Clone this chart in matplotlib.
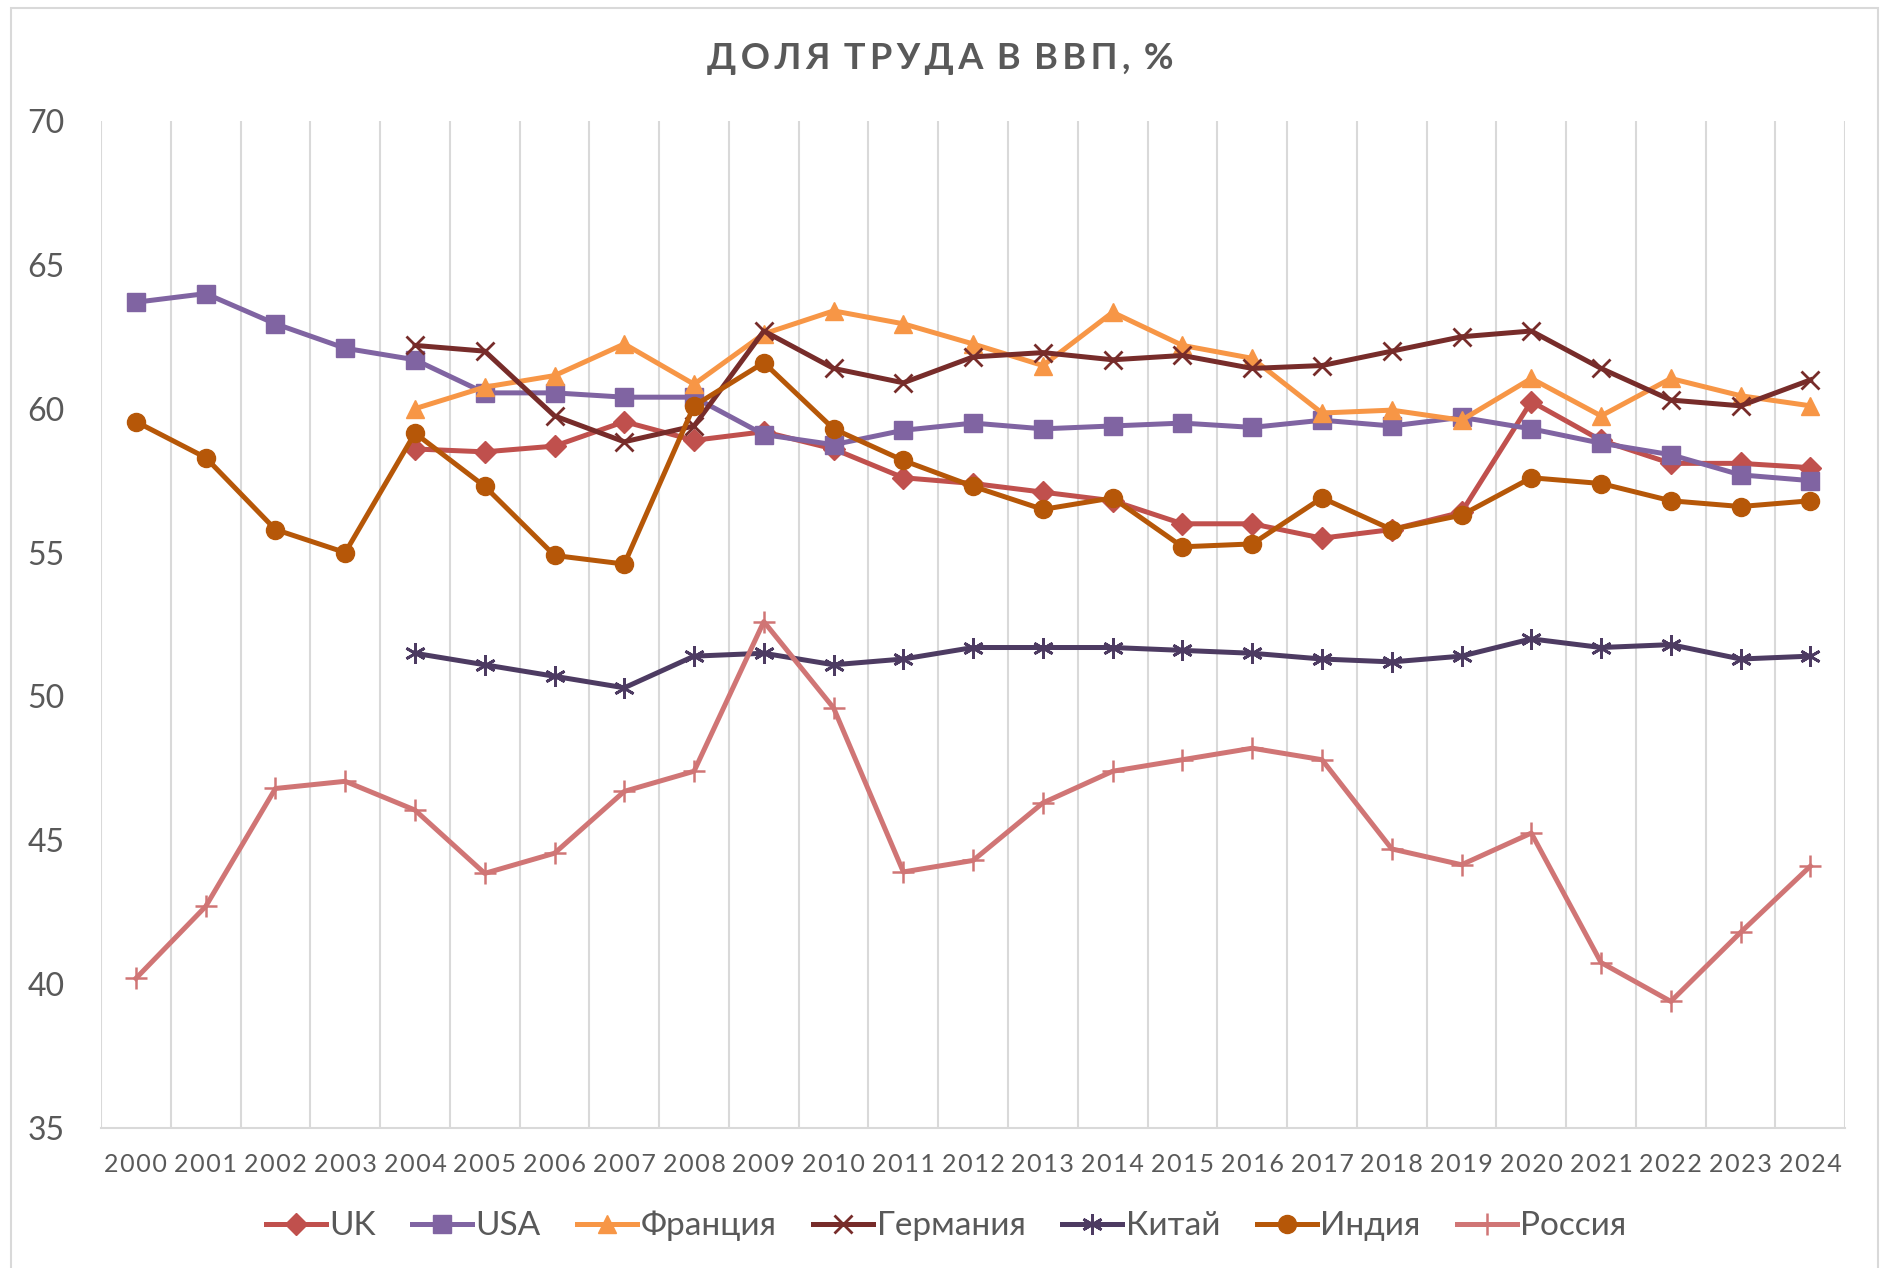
import numpy as np
import matplotlib
matplotlib.use("Agg")
import matplotlib.pyplot as plt
from matplotlib.patches import Rectangle

plt.rcParams['font.family'] = ['Lato', 'DejaVu Sans']

# data
years = [str(y) for y in range(2000, 2025)]
nan = np.nan

uk = [nan, nan, nan, nan, 58.6, 58.5, 58.7, 59.55, 58.9, 59.2, 58.6, 57.6, 57.4, 57.1, 56.8,
      56.0, 56.0, 55.5, 55.8, 56.4, 60.25, 58.9, 58.1, 58.1, 57.95]
usa = [63.7, 64.0, 62.95, 62.1, 61.7, 60.55, 60.55, 60.4, 60.4, 59.1, 58.75, 59.25, 59.5, 59.3, 59.4,
       59.5, 59.35, 59.6, 59.4, 59.7, 59.3, 58.8, 58.4, 57.7, 57.5]
france = [nan, nan, nan, nan, 60.0, 60.75, 61.15, 62.25, 60.85, 62.6, 63.4, 62.95, 62.25, 61.5, 63.35,
          62.2, 61.75, 59.85, 59.95, 59.6, 61.05, 59.75, 61.05, 60.45, 60.1]
germany = [nan, nan, nan, nan, 62.2, 62.0, 59.75, 58.85, 59.4, 62.7, 61.4, 60.9, 61.8, 61.95, 61.7,
           61.85, 61.4, 61.5, 62.0, 62.5, 62.7, 61.4, 60.3, 60.1, 61.0]
china = [nan, nan, nan, nan, 51.5, 51.1, 50.7, 50.3, 51.4, 51.5, 51.1, 51.3, 51.7, 51.7, 51.7,
         51.6, 51.5, 51.3, 51.2, 51.4, 52.0, 51.7, 51.8, 51.3, 51.4]
india = [59.55, 58.3, 55.8, 55.0, 59.15, 57.3, 54.9, 54.6, 60.1, 61.6, 59.3, 58.2, 57.3, 56.5, 56.9,
         55.2, 55.3, 56.9, 55.8, 56.3, 57.6, 57.4, 56.8, 56.6, 56.8]
russia = [40.2, 42.7, 46.8, 47.05, 46.05, 43.85, 44.55, 46.7, 47.4, 52.6, 49.6, 43.9, 44.3, 46.3, 47.4,
          47.8, 48.2, 47.8, 44.7, 44.15, 45.25, 40.75, 39.4, 41.8, 44.1]

names = ['UK', 'USA', 'Франция', 'Германия', 'Китай', 'Индия', 'Россия']
colors = ['#C0504D', '#8064A2', '#F79646', '#772C2A', '#4D3B62', '#B65708', '#D07575']

TEXT = '#595959'
GRID = '#D9D9D9'

fig = plt.figure(figsize=(18.81, 12.68), dpi=100)
ax = fig.add_axes([0.0537, 0.1104, 0.9273, 0.7942])

# chart border
fig.patches.append(Rectangle((11 / 1881, -0.01), 1867 / 1881, 1.01 - 8 / 1268,
                             transform=fig.transFigure, fill=False,
                             edgecolor=GRID, linewidth=1.5))

x = np.arange(len(years))
series = [uk, usa, france, germany, china, india, russia]
styles = [
    dict(marker='D', markersize=11),
    dict(marker='s', markersize=13),
    dict(marker='^', markersize=13),
    dict(marker='x', markersize=13, markeredgewidth=2),
    dict(marker=(6, 2, 0), markersize=15, markeredgewidth=2),
    dict(marker='o', markersize=13),
    dict(marker='+', markersize=16, markeredgewidth=1.8),
]
for vals, name, c, st in zip(series, names, colors, styles):
    ax.plot(x, vals, color=c, linewidth=3.6, label=name,
            markerfacecolor=c, markeredgecolor=c, **st)

ax.set_xlim(-0.5, len(years) - 0.5)
ax.set_ylim(35, 70)
ax.set_yticks(range(35, 71, 5))
ax.set_xticks(x)
# spaced-out digits like the Excel original
ax.set_xticklabels(['\u200a'.join(y) for y in years])

# category boundary gridlines, Excel style
for b in np.arange(-0.5, len(years), 1.0):
    ax.axvline(b, color=GRID, linewidth=1.5, zorder=0)

for s in ['top', 'right', 'left']:
    ax.spines[s].set_visible(False)
ax.spines['bottom'].set_color(GRID)
ax.spines['bottom'].set_linewidth(1.5)
ax.tick_params(axis='both', length=0, colors=TEXT)
ax.tick_params(axis='y', labelsize=23, pad=26)
ax.tick_params(axis='x', labelsize=18, pad=18)

fig.text(0.5, 0.954, 'Д О Л Я   Т Р У Д А   В   В В П ,   %'.replace(' ', '\u2009'),
         ha='center', va='center', fontsize=26, fontweight='bold', color=TEXT)

leg = fig.legend(loc='center', bbox_to_anchor=(0.503, 0.033), ncol=7, frameon=False,
                 fontsize=24, handlelength=1.8, columnspacing=1.1, handletextpad=0.1,
                 labelcolor=TEXT)

fig.savefig('out.png', dpi=100, facecolor='white')
